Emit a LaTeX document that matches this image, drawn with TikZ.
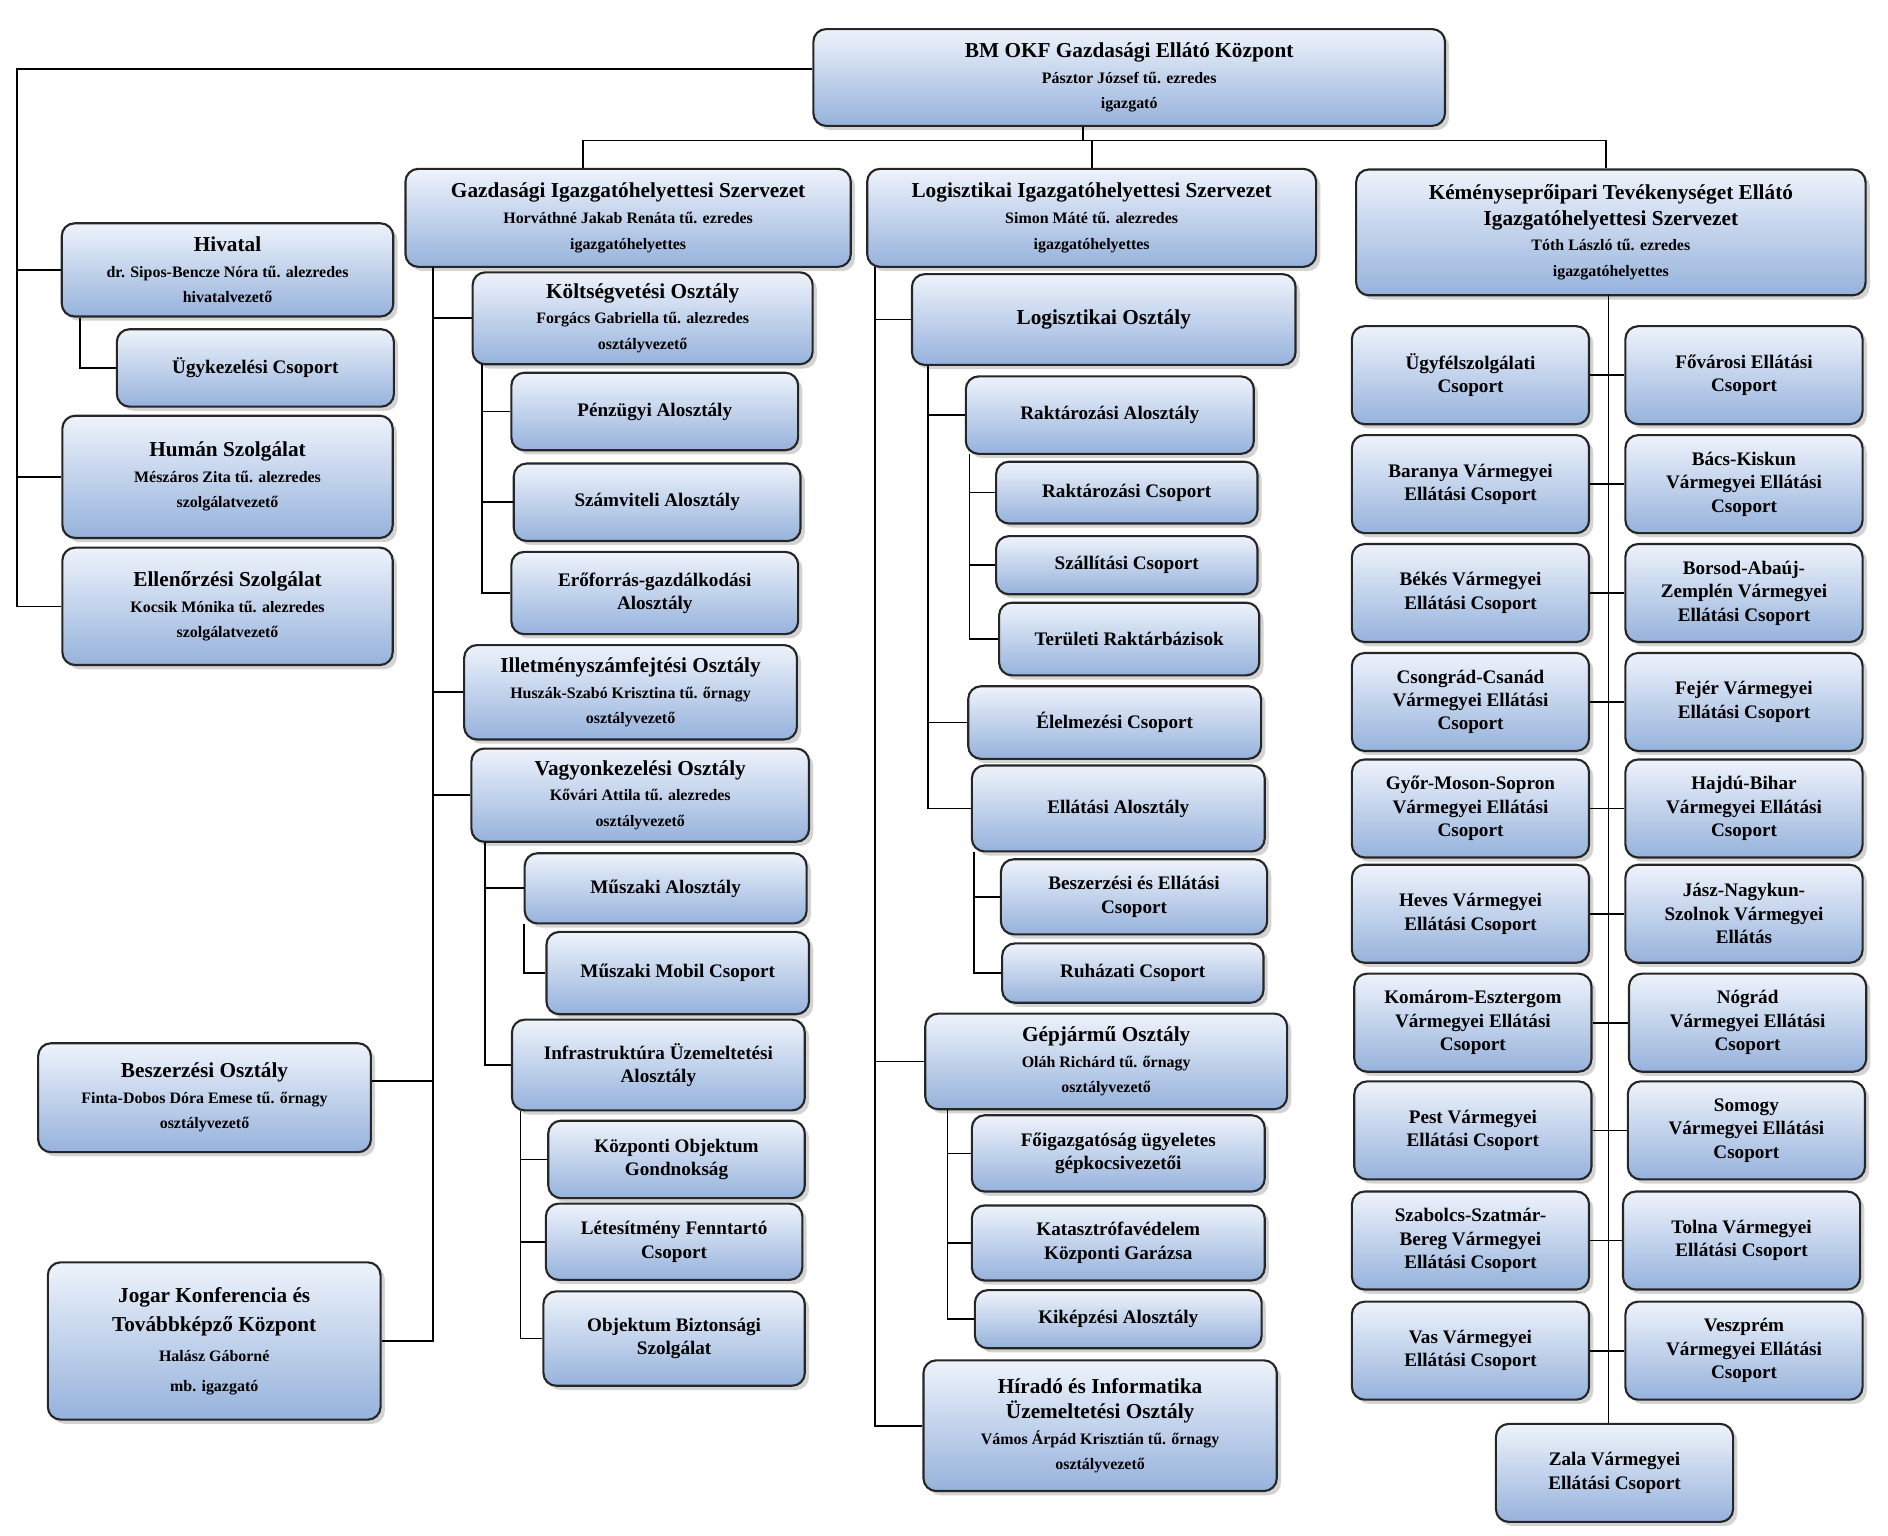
\documentclass[tikz,border=0pt]{standalone}
\usepackage{fontspec}
\setmainfont{Liberation Serif}
\usetikzlibrary{shadows}

\tikzset{
  box/.style={draw=black!85, line width=1pt, rounded corners=6pt, align=center,
    top color={rgb,255:red,238;green,243;blue,251}, bottom color={rgb,255:red,150;green,178;blue,220},
    drop shadow={opacity=0.35, shadow xshift=2pt, shadow yshift=-2pt}, inner sep=2pt},
  big/.style={font=\fontsize{10}{12}\selectfont\bfseries},
  mid/.style={font=\fontsize{9}{11}\selectfont\bfseries},
  link/.style={draw=black, line width=0.8pt},
}
\newcommand{\sm}[1]{{\fontsize{7.5}{10}\selectfont #1}}

\begin{document}
\begin{tikzpicture}[x=0.02cm,y=-0.02cm]
\useasboundingbox (0,0) rectangle (1560,1269);

% top
\node[box,big,minimum width=10.44cm,minimum height=1.6cm] (top) at (933,64) {BM OKF Gazdasági Ellátó Központ\\\sm{Pásztor József tű. ezredes}\\\sm{igazgató}};
\node[box,big,minimum width=7.36cm,minimum height=1.62cm] (gis) at (519,180) {Gazdasági Igazgatóhelyettesi Szervezet\\\sm{Horváthné Jakab Renáta tű. ezredes}\\\sm{igazgatóhelyettes}};
\node[box,big,minimum width=7.42cm,minimum height=1.62cm] (lis) at (902,180) {Logisztikai Igazgatóhelyettesi Szervezet\\\sm{Simon Máté tű. alezredes}\\\sm{igazgatóhelyettes}};
\node[box,big,minimum width=8.42cm,minimum height=2.08cm] (kis) at (1331,192) {Kéményseprőipari Tevékenységet Ellátó\\Igazgatóhelyettesi Szervezet\\\sm{Tóth László tű. ezredes}\\\sm{igazgatóhelyettes}};

% left column
\node[box,big,minimum width=5.48cm,minimum height=1.54cm] (hiv) at (188,223) {Hivatal\\\sm{dr. Sipos-Bencze Nóra tű. alezredes}\\\sm{hivatalvezető}};
\node[box,mid,minimum width=4.58cm,minimum height=1.28cm] (ugyk) at (211,304) {Ügykezelési Csoport};
\node[box,big,minimum width=5.46cm,minimum height=2.02cm] (human) at (188,394) {Humán Szolgálat\\\sm{Mészáros Zita tű. alezredes}\\\sm{szolgálatvezető}};
\node[box,big,minimum width=5.46cm,minimum height=1.94cm] (ell) at (188,501) {Ellenőrzési Szolgálat\\\sm{Kocsik Mónika tű. alezredes}\\\sm{szolgálatvezető}};
\node[box,big,minimum width=5.5cm,minimum height=1.8cm] (besz) at (169,907) {Beszerzési Osztály\\\sm{Finta-Dobos Dóra Emese tű. őrnagy}\\\sm{osztályvezető}};
\node[box,big,minimum width=5.5cm,minimum height=2.6cm,font=\fontsize{10}{14}\selectfont\bfseries] (jogar) at (177,1108) {Jogar Konferencia és\\Továbbképző Központ\\\sm{Halász Gáborné}\\\sm{mb. igazgató}};

% gazdasagi column
\node[box,big,minimum width=5.62cm,minimum height=1.52cm] (kolt) at (531,263) {Költségvetési Osztály\\\sm{Forgács Gabriella tű. alezredes}\\\sm{osztályvezető}};
\node[box,mid,minimum width=4.74cm,minimum height=1.28cm] (penz) at (541,340) {Pénzügyi Alosztály};
\node[box,mid,minimum width=4.74cm,minimum height=1.28cm] (szamv) at (543,415) {Számviteli Alosztály};
\node[box,mid,minimum width=4.74cm,minimum height=1.36cm] (erof) at (541,490) {Erőforrás-gazdálkodási\\Alosztály};
\node[box,big,minimum width=5.5cm,minimum height=1.56cm] (illet) at (521,572) {Illetményszámfejtési Osztály\\\sm{Huszák-Szabó Krisztina tű. őrnagy}\\\sm{osztályvezető}};
\node[box,big,minimum width=5.58cm,minimum height=1.54cm] (vagy) at (529,657) {Vagyonkezelési Osztály\\\sm{Kővári Attila tű. alezredes}\\\sm{osztályvezető}};
\node[box,mid,minimum width=4.66cm,minimum height=1.16cm] (musz) at (550,734) {Műszaki Alosztály};
\node[box,mid,minimum width=4.34cm,minimum height=1.36cm] (muszmob) at (560,804) {Műszaki Mobil Csoport};
\node[box,mid,minimum width=4.84cm,minimum height=1.5cm] (infra) at (544,880) {Infrastruktúra Üzemeltetési\\Alosztály};
\node[box,mid,minimum width=4.24cm,minimum height=1.28cm] (kozp) at (559,958) {Központi Objektum\\Gondnokság};
\node[box,mid,minimum width=4.24cm,minimum height=1.26cm] (letes) at (557,1026) {Létesítmény Fenntartó\\Csoport};
\node[box,mid,minimum width=4.32cm,minimum height=1.56cm] (objb) at (557,1106) {Objektum Biztonsági\\Szolgálat};

% logisztikai column
\node[box,big,minimum width=6.34cm,minimum height=1.5cm] (logo) at (912,264) {Logisztikai Osztály};
\node[box,mid,minimum width=4.76cm,minimum height=1.28cm] (rakta) at (917,343) {Raktározási Alosztály};
\node[box,mid,minimum width=4.32cm,minimum height=1.02cm] (raktcs) at (931,407) {Raktározási Csoport};
\node[box,mid,minimum width=4.32cm,minimum height=0.96cm] (szall) at (931,467) {Szállítási Csoport};
\node[box,mid,minimum width=4.3cm,minimum height=1.2cm] (teru) at (933,528) {Területi Raktárbázisok};
\node[box,mid,minimum width=4.84cm,minimum height=1.2cm] (elel) at (921,597) {Élelmezési Csoport};
\node[box,mid,minimum width=4.84cm,minimum height=1.42cm] (ella) at (924,668) {Ellátási Alosztály};
\node[box,mid,minimum width=4.4cm,minimum height=1.24cm] (beszell) at (937,741) {Beszerzési és Ellátási\\Csoport};
\node[box,mid,minimum width=4.32cm,minimum height=0.98cm] (ruha) at (936,804) {Ruházati Csoport};
\node[box,big,minimum width=5.98cm,minimum height=1.58cm] (gepj) at (914,877) {Gépjármű Osztály\\\sm{Oláh Richárd tű. őrnagy}\\\sm{osztályvezető}};
\node[box,mid,minimum width=4.84cm,minimum height=1.26cm] (foig) at (924,953) {Főigazgatóság ügyeletes\\gépkocsivezetői};
\node[box,mid,minimum width=4.84cm,minimum height=1.24cm] (kata) at (924,1027) {Katasztrófavédelem\\Központi Garázsa};
\node[box,mid,minimum width=4.74cm,minimum height=0.96cm] (kikep) at (924,1090) {Kiképzési Alosztály};
\node[box,big,minimum width=5.84cm,minimum height=2.16cm] (hirado) at (909,1178) {Híradó és Informatika\\Üzemeltetési Osztály\\\sm{Vámos Árpád Krisztián tű. őrnagy}\\\sm{osztályvezető}};

% kemenysepro column
\tikzset{vm/.style={box,mid,minimum width=3.92cm,minimum height=1.62cm}}
\node[vm] (k1l) at (1215,310) {Ügyfélszolgálati\\Csoport};
\node[vm] (k1r) at (1441,310) {Fővárosi Ellátási\\Csoport};
\node[vm] (k2l) at (1215,400) {Baranya Vármegyei\\Ellátási Csoport};
\node[vm] (k2r) at (1441,400) {Bács-Kiskun\\Vármegyei Ellátási\\Csoport};
\node[vm] (k3l) at (1215,490) {Békés Vármegyei\\Ellátási Csoport};
\node[vm] (k3r) at (1441,490) {Borsod-Abaúj-\\Zemplén Vármegyei\\Ellátási Csoport};
\node[vm] (k4l) at (1215,580) {Csongrád-Csanád\\Vármegyei Ellátási\\Csoport};
\node[vm] (k4r) at (1441,580) {Fejér Vármegyei\\Ellátási Csoport};
\node[vm] (k5l) at (1215,668) {Győr-Moson-Sopron\\Vármegyei Ellátási\\Csoport};
\node[vm] (k5r) at (1441,668) {Hajdú-Bihar\\Vármegyei Ellátási\\Csoport};
\node[vm] (k6l) at (1215,755) {Heves Vármegyei\\Ellátási Csoport};
\node[vm] (k6r) at (1441,755) {Jász-Nagykun-\\Szolnok Vármegyei\\Ellátás};
\node[vm] (k7l) at (1217,845) {Komárom-Esztergom\\Vármegyei Ellátási\\Csoport};
\node[vm] (k7r) at (1444,845) {Nógrád\\Vármegyei Ellátási\\Csoport};
\node[vm] (k8l) at (1217,934) {Pest Vármegyei\\Ellátási Csoport};
\node[vm] (k8r) at (1443,934) {Somogy\\Vármegyei Ellátási\\Csoport};
\node[vm] (k9l) at (1215,1025) {Szabolcs-Szatmár-\\Bereg Vármegyei\\Ellátási Csoport};
\node[vm] (k9r) at (1439,1025) {Tolna Vármegyei\\Ellátási Csoport};
\node[vm] (k10l) at (1215,1116) {Vas Vármegyei\\Ellátási Csoport};
\node[vm] (k10r) at (1441,1116) {Veszprém\\Vármegyei Ellátási\\Csoport};
\node[vm] (zala) at (1334,1217) {Zala Vármegyei\\Ellátási Csoport};

% connectors: top level
\coordinate (bus) at (895,116);
\draw[link] (top.south -| bus) -- (bus);
\draw[link] (bus) -| (gis.north -| 482,0);
\draw[link] (bus) -- (bus -| lis.north) -- (lis.north);
\draw[link] (bus) -| (kis.north -| 1327,0);
\coordinate (lsp) at (14,57);
\draw[link] (top.west |- lsp) -- (lsp) |- (ell.west);
\draw[link] (lsp |- hiv.west) -- (hiv.west);
\draw[link] (lsp |- human.west) -- (human.west);
\draw[link] (hiv.south -| 66,0) |- (ugyk.west);

% gazdasagi
\coordinate (gsp) at (358,221);
\draw[link] (gsp) |- (jogar.east);
\foreach \n in {kolt,illet,vagy} \draw[link] (gsp |- \n.west) -- (\n.west);
\draw[link] (besz.east |- 0,893) -- (gsp |- 0,893);
\coordinate (ksp) at (398,301);
\draw[link] (ksp) |- (erof.west);
\foreach \n in {penz,szamv} \draw[link] (ksp |- \n.west) -- (\n.west);
\coordinate (vsp) at (401,696);
\draw[link] (vsp) |- (infra.west);
\draw[link] (vsp |- musz.west) -- (musz.west);
\draw[link] (musz.south -| 433,0) |- (muszmob.west);
\coordinate (isp) at (430,918);
\draw[link] (isp) |- (objb.west);
\foreach \n in {kozp,letes} \draw[link] (isp |- \n.west) -- (\n.west);

% logisztikai
\coordinate (lisp) at (723,221);
\draw[link] (lisp) |- (hirado.west);
\foreach \n in {logo,gepj} \draw[link] (lisp |- \n.west) -- (\n.west);
\coordinate (losp) at (767,302);
\draw[link] (losp) |- (ella.west);
\foreach \n in {rakta,elel} \draw[link] (losp |- \n.west) -- (\n.west);
\coordinate (rsp) at (801,375);
\draw[link] (rsp) |- (teru.west);
\foreach \n in {raktcs,szall} \draw[link] (rsp |- \n.west) -- (\n.west);
\coordinate (esp) at (805,704);
\draw[link] (esp) |- (ruha.west);
\draw[link] (esp |- beszell.west) -- (beszell.west);
\coordinate (gjsp) at (783,917);
\draw[link] (gjsp) |- (kikep.west);
\foreach \n in {foig,kata} \draw[link] (gjsp |- \n.west) -- (\n.west);

% kemenysepro
\coordinate (ksp2) at (1329,244);
\draw[link] (ksp2) -- (ksp2 |- zala.north);
\foreach \i in {1,...,10} \draw[link] (k\i l.east) -- (k\i r.west);
\end{tikzpicture}
\end{document}
